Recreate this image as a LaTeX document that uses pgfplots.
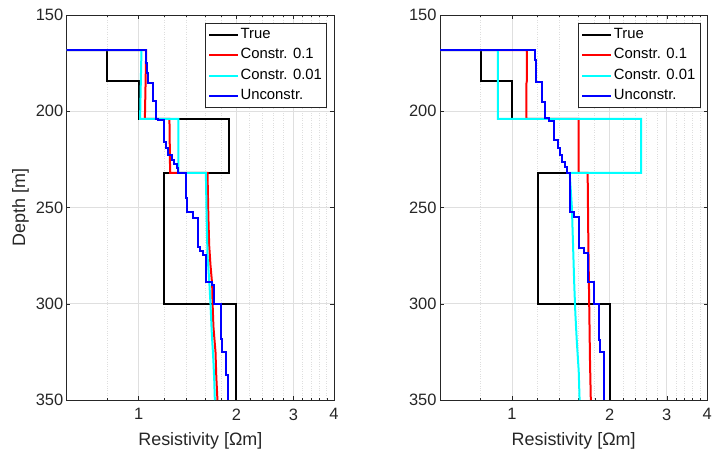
\documentclass[border=0pt]{standalone}
\usepackage{fontspec}
\setmainfont{Liberation Sans}
\usepackage{pgfplots}
\pgfplotsset{compat=1.18}
\definecolor{axgray}{RGB}{38,38,38}
\definecolor{gridmaj}{RGB}{223,223,223}
\definecolor{gridmin}{RGB}{222,222,222}
\definecolor{mred}{RGB}{255,0,0}
\definecolor{mcyan}{RGB}{0,255,255}
\definecolor{mblue}{RGB}{0,0,255}
\pgfplotsset{
  scale only axis, width=267.3bp, height=385bp,
  xmin=0.6, xmax=4, ymin=150, ymax=350, y dir=reverse,
  xtick={1,2,3,4}, xticklabels={1,2,3,4},
  minor xtick={0.6,0.8,1.2,1.4,1.6,1.8,2.2,2.4,2.6,2.8,3.2,3.4,3.6,3.8},
  ytick={150,200,250,300,350},
  grid=both,
  major grid style={gridmaj, line width=0.6bp},
  minor grid style={gridmin, dotted, line width=0.6bp},
  axis line style={axgray, line width=0.5bp},
  major tick length=3.8bp, minor tick length=2bp,
  every tick/.style={axgray, line width=0.5bp},
  tick label style={font=\fontsize{16.5}{18}\selectfont, text=axgray},
  xticklabel style={yshift=-5bp},
  label style={font=\fontsize{18}{20}\selectfont, text=axgray},
  xlabel style={yshift=-6bp},
  xlabel={Resistivity [Ωm]},
  legend image code/.code={\draw[#1] (0bp,0bp) -- (29bp,0bp);},
  legend style={at={(0.9727,0.9784)}, anchor=north east, draw=axgray,
    fill=white, font=\fontsize{14.9}{17}\selectfont,
    inner xsep=3bp, inner ysep=0.8bp, cells={anchor=west},
    nodes={inner xsep=1.5bp, inner ysep=3bp, text height=11bp, text depth=3.5bp}},
}
\pgfplotsset{/pgf/number format/assume math mode=true}

\begin{document}
\begin{tikzpicture}
\useasboundingbox (0,0) rectangle (712bp,458bp);

% left panel
\begin{axis}[xmode=log, at={(66.7bp,58bp)}, anchor=south west, ylabel={Depth [m]}]
  \addplot[black, line width=2bp] coordinates {(0.1,168.2) (0.8,168.2) (0.8,184.5) (1.0,184.5) (1.0,204) (1.9,204) (1.9,232) (1.2,232) (1.2,300) (2.0,300) (2.0,350)};
  \addlegendentry{True}
  \addplot[mred, line width=2bp] coordinates {(0.1,168.2) (1.055,168.2) (1.05,186) (1.045,204) (1.244,204) (1.25,232) (1.63,232) (1.64,255) (1.65,270) (1.665,280) (1.685,290) (1.69,300) (1.70,312) (1.725,325) (1.735,338) (1.749,350)};
  \addlegendentry{Constr. 0.1}
  \addplot[mcyan, line width=2bp] coordinates {(0.1,168.2) (1.02,168.2) (1.015,186) (1.01,204) (1.326,204) (1.326,232) (1.611,232) (1.62,255) (1.63,275) (1.65,288) (1.665,300) (1.68,315) (1.70,330) (1.71,340) (1.717,350)};
  \addlegendentry{Constr. 0.01}
  \addplot[mblue, line width=2bp] coordinates {(0.1,168.2) (1.053,168.2) (1.053,175) (1.061,175) (1.061,180) (1.068,180) (1.068,185.2) (1.104,185.2) (1.104,194.7) (1.130,194.7) (1.130,204.0) (1.144,204.0) (1.144,204.5) (1.198,204.5) (1.198,215.8) (1.213,215.8) (1.213,219.3) (1.235,219.3) (1.235,222.7) (1.265,222.7) (1.265,225.3) (1.289,225.3) (1.289,227.4) (1.31,227.4) (1.31,229.5) (1.326,229.5) (1.326,231.9) (1.399,231.9) (1.399,245.2) (1.412,245.2) (1.412,252.2) (1.473,252.2) (1.473,255.6) (1.519,255.6) (1.519,270.3) (1.544,270.3) (1.544,272.4) (1.58,272.4) (1.58,274.7) (1.618,274.7) (1.618,288.5) (1.684,288.5) (1.684,290.3) (1.708,290.3) (1.708,300.1) (1.79,300.1) (1.79,318.5) (1.808,318.5) (1.808,324.9) (1.864,324.9) (1.864,337.0) (1.886,337.0) (1.886,350)};
  \addlegendentry{Unconstr.}
\end{axis}

% right panel
\begin{axis}[xmode=log, at={(440bp,58bp)}, anchor=south west]
  \addplot[black, line width=2bp] coordinates {(0.1,168.2) (0.8,168.2) (0.8,184.5) (1.0,184.5) (1.0,204) (2.5,204) (2.5,232) (1.2,232) (1.2,300) (2.0,300) (2.0,350)};
  \addlegendentry{True}
  \addplot[mred, line width=2bp] coordinates {(0.1,168.2) (1.112,168.2) (1.112,184) (1.107,186) (1.107,204) (1.606,204) (1.606,232) (1.711,232) (1.72,270) (1.73,300) (1.74,330) (1.75,350)};
  \addlegendentry{Constr. 0.1}
  \addplot[mcyan, line width=2bp] coordinates {(0.1,168.2) (0.905,168.2) (0.905,204) (2.5,204) (2.5,232) (1.506,232) (1.53,250) (1.556,290) (1.568,305) (1.585,320) (1.606,335) (1.616,350)};
  \addlegendentry{Constr. 0.01}
  \addplot[mblue, line width=2bp] coordinates {(0.1,168.2) (1.18,168.2) (1.18,173.4) (1.188,173.4) (1.188,184.6) (1.237,184.6) (1.237,195.0) (1.267,195.0) (1.267,203.7) (1.297,203.7) (1.297,204.9) (1.344,204.9) (1.344,214.9) (1.383,214.9) (1.383,219.3) (1.409,219.3) (1.409,222.7) (1.426,222.7) (1.426,226.2) (1.46,226.2) (1.46,229) (1.477,229) (1.477,231.9) (1.513,231.9) (1.513,252.2) (1.55,252.2) (1.55,255.1) (1.606,255.1) (1.606,271.2) (1.663,271.2) (1.663,273.8) (1.711,273.8) (1.711,288.5) (1.785,288.5) (1.785,300.1) (1.85,300.1) (1.85,318.8) (1.873,318.8) (1.873,324.9) (1.917,324.9) (1.917,337.0) (1.925,337.0) (1.925,350)};
  \addlegendentry{Unconstr.}
\end{axis}
\end{tikzpicture}
\end{document}
